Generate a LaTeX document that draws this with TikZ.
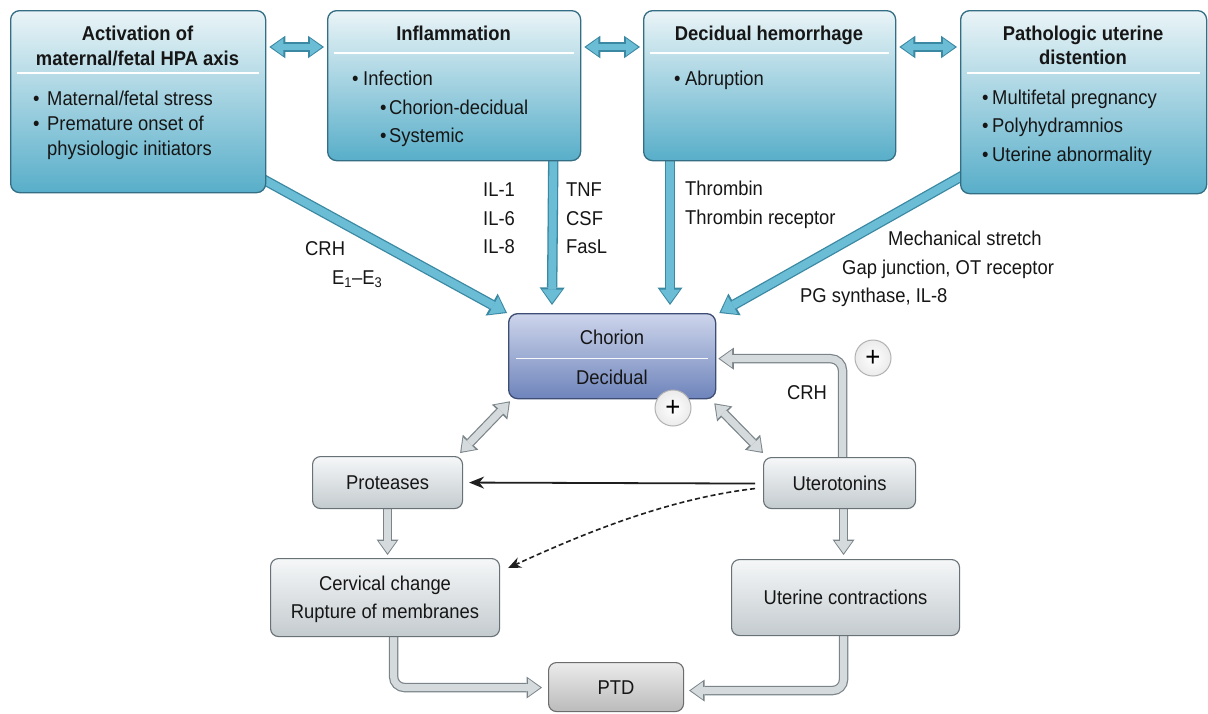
\documentclass[tikz,border=0pt]{standalone}
\usepackage{fontspec}
\setmainfont{Liberation Sans}[FakeStretch=0.92]
\usetikzlibrary{arrows.meta,calc}
\pgfdeclarelayer{bg}
\pgfsetlayers{bg,main}
\definecolor{txtc}{HTML}{161616}
\definecolor{btop}{HTML}{EAF4F7}
\definecolor{bbot}{HTML}{58AEC9}
\definecolor{bline}{HTML}{336E84}
\definecolor{afill}{HTML}{6BBDD5}
\definecolor{aline}{HTML}{3B88A3}
\definecolor{ctop}{HTML}{CDD5EB}
\definecolor{cbot}{HTML}{6E84BB}
\definecolor{cline}{HTML}{3E4D74}
\definecolor{gtop}{HTML}{F5F7F8}
\definecolor{gbot}{HTML}{C4CBCF}
\definecolor{gline}{HTML}{687176}
\definecolor{gafill}{HTML}{D5DADD}
\definecolor{galine}{HTML}{7A8489}
\definecolor{ptop}{HTML}{EBEBEB}
\definecolor{pbot}{HTML}{BBBBBB}
\definecolor{pline}{HTML}{6C6C6C}
\newcommand\myfs{\fontsize{20}{24}\selectfont}
\newcommand\bul[1]{\makebox[#1][l]{\textbullet}}
\begin{document}
\begin{tikzpicture}[x=1pt,y=-1pt,
  every node/.style={text=txtc, font=\myfs},
  tbox/.style={draw=bline, line width=1.3pt, rounded corners=9pt, top color=btop, bottom color=bbot, anchor=north west, inner sep=0pt},
  gbox/.style={draw=gline, line width=1.1pt, rounded corners=8pt, top color=gtop, bottom color=gbot, anchor=north west, inner sep=0pt, text height=14.3pt, text depth=0pt, align=center},
  lt/.style={inner sep=0pt, anchor=base west},
  ct/.style={inner sep=0pt, anchor=base},
  tt/.style={ct, font=\myfs\bfseries},
  sepline/.style={white, line width=1.2pt},
  bluearr/.style={line width=7.8pt, draw=afill, -{Triangle[width=20pt,length=13.5pt,line width=0pt]}, shorten >=2pt,
    preaction={draw=aline, line width=10.4pt, -{Triangle[width=25pt,length=17.5pt,line width=0pt]}, shorten >=0pt}},
  bluedbl/.style={line width=6.8pt, draw=afill, {Triangle[width=17.5pt,length=12pt,line width=0pt]}-{Triangle[width=17.5pt,length=12pt,line width=0pt]}, shorten >=2pt, shorten <=2pt,
    preaction={draw=aline, line width=9.4pt, {Triangle[width=22.5pt,length=16pt,line width=0pt]}-{Triangle[width=22.5pt,length=16pt,line width=0pt]}, shorten >=0pt, shorten <=0pt}},
  grayarr/.style={line width=7pt, draw=gafill, -{Triangle[width=17.5pt,length=12pt,line width=0pt]}, shorten >=1.8pt,
    preaction={draw=galine, line width=9.4pt, -{Triangle[width=22pt,length=15.5pt,line width=0pt]}, shorten >=0pt}},
  graydbl/.style={line width=7pt, draw=gafill, {Triangle[width=17pt,length=11.5pt,line width=0pt]}-{Triangle[width=17pt,length=11.5pt,line width=0pt]}, shorten >=1.8pt, shorten <=1.8pt,
    preaction={draw=galine, line width=9.4pt, {Triangle[width=21.5pt,length=15pt,line width=0pt]}-{Triangle[width=21.5pt,length=15pt,line width=0pt]}, shorten >=0pt, shorten <=0pt}},
  pc/.style={circle, draw=gray!60, line width=1pt, inner color=white, outer color=gray!16, minimum size=36pt, inner sep=0pt, text=black, font=\fontsize{28}{28}\selectfont}
]
\useasboundingbox (0,0) rectangle (1208,713);

% ---------- top boxes ----------
\node[tbox, minimum width=255pt, minimum height=182pt] (b1) at (10,10) {};
\node[tbox, minimum width=253pt, minimum height=150pt] (b2) at (327,10) {};
\node[tbox, minimum width=252pt, minimum height=150pt] (b3) at (643,10) {};
\node[tbox, minimum width=246pt, minimum height=183pt] (b4) at (960,10) {};

\draw[sepline] ($(b1.north west)+(7,63)$) -- ($(b1.north east)+(-7,63)$);
\draw[sepline] ($(b2.north west)+(7,43)$) -- ($(b2.north east)+(-7,43)$);
\draw[sepline] ($(b3.north west)+(7,43)$) -- ($(b3.north east)+(-7,43)$);
\draw[sepline] ($(b4.north west)+(7,63)$) -- ($(b4.north east)+(-7,63)$);

\node[tt] (b1t1) at (137.5,40) {Activation of};
\node[tt] (b1t2) at (137.5,65) {maternal/fetal HPA axis};
\node[lt] (b1l1) at (33,105) {\bul{14pt}Maternal/fetal stress};
\node[lt] (b1l2) at (33,130) {\bul{14pt}Premature onset of};
\node[lt] (b1l3) at (47,155) {physiologic initiators};

\node[tt] (b2t1) at (453.5,40) {Inflammation};
\node[lt] (b2l1) at (352,85) {\bul{11pt}Infection};
\node[lt] (b2l2) at (380,114) {\bul{9pt}Chorion-decidual};
\node[lt] (b2l3) at (380,142) {\bul{9pt}Systemic};

\node[tt] (b3t1) at (769,40) {Decidual hemorrhage};
\node[lt] (b3l1) at (674,85) {\bul{11pt}Abruption};

\node[tt] (b4t1) at (1083,40) {Pathologic uterine};
\node[tt] (b4t2) at (1083,64) {distention};
\node[lt] (b4l1) at (982,104) {\bul{10pt}Multifetal pregnancy};
\node[lt] (b4l2) at (982,132) {\bul{10pt}Polyhydramnios};
\node[lt] (b4l3) at (982,161) {\bul{10pt}Uterine abnormality};

% ---------- chorion / decidual ----------
\node[draw=cline, line width=1.3pt, rounded corners=9pt, top color=ctop, bottom color=cbot, anchor=north west, inner sep=0pt, minimum width=207pt, minimum height=85pt] (cd) at (508,313) {};
\draw[sepline, white!80!ctop] ($(cd.west)+(8,2.5)$) -- ($(cd.east)+(-8,2.5)$);
\node[ct] (cdt1) at (612,344) {Chorion};
\node[ct] (cdt2) at (612,384) {Decidual};

% ---------- gray boxes ----------
\node[gbox, minimum width=150pt, minimum height=52pt] (pr) at (312,456) {Proteases};
\node[gbox, minimum width=152pt, minimum height=51pt] (ut) at (763,457) {Uterotonins};
\node[gbox, minimum width=229pt, minimum height=78pt, text height=42.3pt, text depth=0pt, font=\fontsize{20}{28}\selectfont] (cv) at (270,558) {Cervical change\\Rupture of membranes};
\node[gbox, minimum width=228pt, minimum height=76pt] (uc) at (731,559) {Uterine contractions};
\node[gbox, draw=pline, top color=ptop, bottom color=pbot, minimum width=135pt, minimum height=49pt] (ptd) at (548,662) {PTD};

% ---------- plus circles ----------
\node[pc] (p1) at (673,408) {+};
\node[pc] (p2) at (873,358) {+};

% ---------- labels ----------
\node[lt] (l1) at (483,196) {IL-1};
\node[lt] (l2) at (483,225) {IL-6};
\node[lt] (l3) at (483,253) {IL-8};
\node[lt] (l4) at (566,196) {TNF};
\node[lt] (l5) at (566,225) {CSF};
\node[lt] (l6) at (566,253) {FasL};
\node[lt] (l7) at (685,195) {Thrombin};
\node[lt] (l8) at (685,224) {Thrombin receptor};
\node[lt] (l9) at (305,255) {CRH};
\node[lt] (l10) at (332,284.5) {E\textsubscript{1}–E\textsubscript{3}};
\node[lt] (l11) at (888,245) {Mechanical stretch};
\node[lt] (l12) at (842,274) {Gap junction, OT receptor};
\node[lt] (l13) at (800,302) {PG synthase, IL-8};
\node[ct] (l14) at (807,399) {CRH};

% ---------- connectors (behind boxes) ----------
\begin{pgfonlayer}{bg}
\fill[white] (0,0) rectangle (1208,713);
% blue double arrows between top boxes
\draw[bluedbl] ($(b1.north east)+(3,37)$) -- ($(b2.north west)+(-3,37)$);
\draw[bluedbl] ($(b2.north east)+(3,37)$) -- ($(b3.north west)+(-3,37)$);
\draw[bluedbl] ($(b3.north east)+(3,37)$) -- ($(b4.north west)+(-3,37)$);
% blue arrows into chorion
\draw[bluearr] ($(b1.south east)+(-5,-15)$) -- ($(cd.north west)+(-1,0)$);
\draw[bluearr] ($(b2.south east)+(-28,-3)$) -- ($(cd.north west)+(44,-8)$);
\draw[bluearr] ($(b3.south west)+(27,-3)$) -- ($(cd.north west)+(162,-8)$);
\draw[bluearr] ($(b4.south west)+(5,-20)$) -- ($(cd.north east)+(3,0)$);
% gray connectors
\draw[graydbl] ($(cd.south west)+(2,2)$) -- ($(pr.north east)+(-3,-3)$);
\draw[graydbl] ($(cd.south east)+(-2,4)$) -- ($(ut.north west)+(0,-4)$);
\draw[grayarr, rounded corners=12pt] ($(ut.north)+(3,3)$) |- ($(cd.east)+(2,2.5)$);
\draw[grayarr] ($(pr.south)+(0,-3)$) -- ($(cv.north)+(2.5,-3)$);
\draw[grayarr] ($(ut.south)+(4,-3)$) -- ($(uc.north)+(-2,-4)$);
\draw[grayarr, rounded corners=11pt] ($(cv.south)+(8.5,-3)$) |- ($(ptd.west)+(-6,0.5)$);
\draw[grayarr, rounded corners=11pt] ($(uc.south)+(-2,-3)$) |- ($(ptd.east)+(5,3.5)$);
% black arrows
\draw[black!88, line width=1.8pt, -{Stealth[length=15pt,width=12pt]}] ($(ut.west)+(-8,0.5)$) -- ($(pr.east)+(6,0)$);
\draw[black!88, line width=1.6pt, dash pattern=on 5pt off 3pt, -{Stealth[length=13pt,width=11pt]}] ($(ut.west)+(-8,5.5)$) .. controls (665,499) and (578,536) .. ($(cv.north east)+(8,10)$);
\end{pgfonlayer}
\end{tikzpicture}
\end{document}
